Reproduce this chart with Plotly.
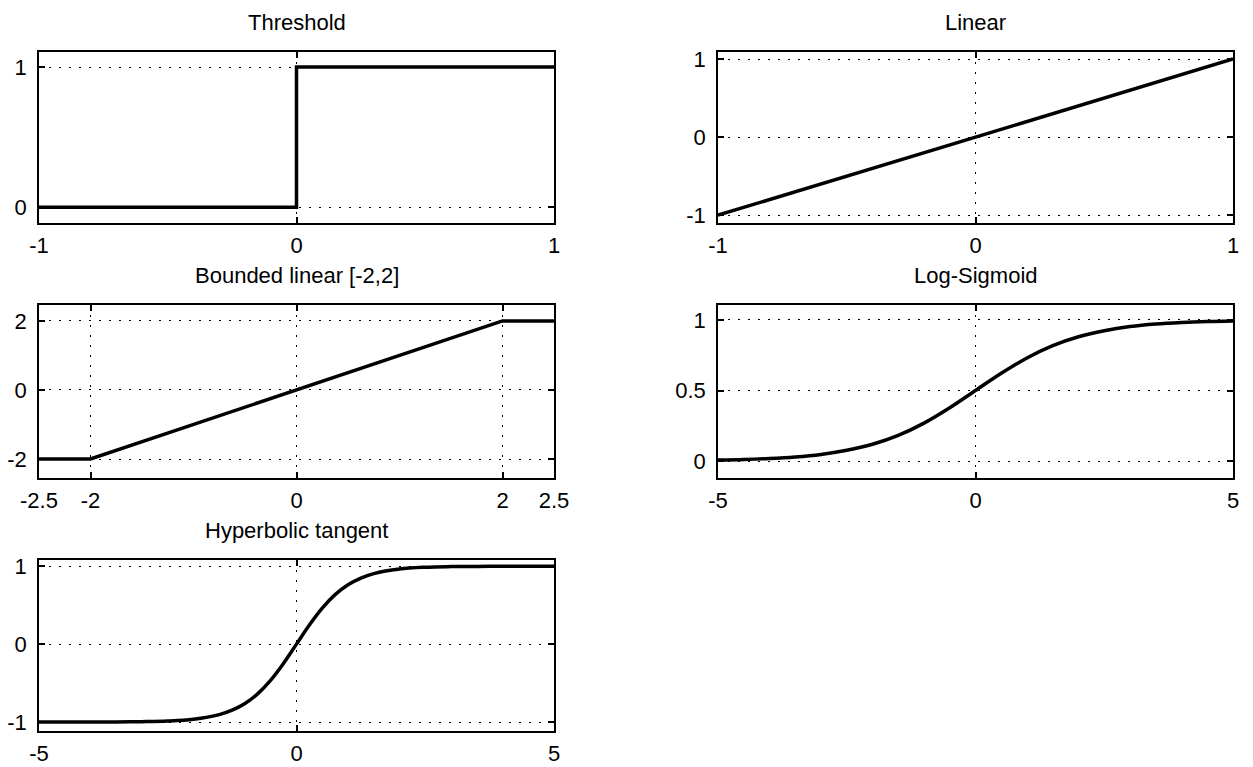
import plotly.graph_objects as go

# ---- data ----
thr_x = [-1, 0, 0, 1]
thr_y = [0, 0, 1, 1]

lin_x = [-1, 1]
lin_y = [-1, 1]

bnd_x = [-2.5, -2, 2, 2.5]
bnd_y = [-2, -2, 2, 2]

sig_x = [-5, -4.5, -4, -3.5, -3, -2.5, -2, -1.5, -1, -0.5, 0, 0.5, 1, 1.5, 2, 2.5, 3, 3.5, 4, 4.5, 5]
sig_y = [0.007, 0.011, 0.018, 0.029, 0.047, 0.076, 0.119, 0.182, 0.269, 0.378, 0.5,
         0.622, 0.731, 0.818, 0.881, 0.924, 0.953, 0.971, 0.982, 0.989, 0.993]

tanh_x = [-5, -4.5, -4, -3.5, -3, -2.5, -2, -1.5, -1.25, -1, -0.75, -0.5, -0.25, 0,
          0.25, 0.5, 0.75, 1, 1.25, 1.5, 2, 2.5, 3, 3.5, 4, 4.5, 5]
tanh_y = [-0.9999, -0.9998, -0.9993, -0.998, -0.995, -0.987, -0.964, -0.905, -0.848, -0.762,
          -0.635, -0.462, -0.245, 0, 0.245, 0.462, 0.635, 0.762, 0.848, 0.905, 0.964, 0.987,
          0.995, 0.998, 0.9993, 0.9998, 0.9999]

titles = ["Threshold", "Linear", "Bounded linear [-2,2]", "Log-Sigmoid", "Hyperbolic tangent"]

thr_xt = [-1, 0, 1];  thr_xl = ["-1", "0", "1"]
thr_yt = [0, 1];      thr_yl = ["0", "1"]
lin_xt = [-1, 0, 1];  lin_xl = ["-1", "0", "1"]
lin_yt = [-1, 0, 1];  lin_yl = ["-1", "0", "1"]
bnd_xt = [-2.5, -2, 0, 2, 2.5]; bnd_xl = ["-2.5", "-2", "0", "2", "2.5"]
bnd_yt = [-2, 0, 2];  bnd_yl = ["-2", "0", "2"]
sig_xt = [-5, 0, 5];  sig_xl = ["-5", "0", "5"]
sig_yt = [0, 0.5, 1]; sig_yl = ["0", "0.5", "1"]
tnh_xt = [-5, 0, 5];  tnh_xl = ["-5", "0", "5"]
tnh_yt = [-1, 0, 1];  tnh_yl = ["-1", "0", "1"]

W, H = 1253, 767
FONT = "Liberation Sans, Arial, sans-serif"

# panel pixel boxes in page coords: (left, right, top, bottom)
boxes = [(39, 554, 52, 223), (718, 1233, 52, 223),
         (39, 554, 305, 478), (718, 1233, 305, 478),
         (39, 554, 560, 731)]

panels = [
    (thr_x, thr_y, [-1, 1], [-0.112, 1.107], thr_xt, thr_xl, thr_yt, thr_yl),
    (lin_x, lin_y, [-1, 1], [-1.1, 1.09], lin_xt, lin_xl, lin_yt, lin_yl),
    (bnd_x, bnd_y, [-2.5, 2.5], [-2.55, 2.46], bnd_xt, bnd_xl, bnd_yt, bnd_yl),
    (sig_x, sig_y, [-5, 5], [-0.12, 1.106], sig_xt, sig_xl, sig_yt, sig_yl),
    (tanh_x, tanh_y, [-5, 5], [-1.115, 1.08], tnh_xt, tnh_xl, tnh_yt, tnh_yl),
]

fig = go.Figure()
annotations = []
for i, (px, py, xr, yr, xt, xl, yt, yl) in enumerate(panels):
    n = i + 1
    sfx = "" if n == 1 else str(n)
    l, r, t, b = boxes[i]
    xd = [l / W, r / W]
    yd = [1 - b / H, 1 - t / H]
    shape = "spline" if i >= 3 else "linear"
    fig.add_trace(go.Scatter(x=px, y=py, mode="lines",
                             line=dict(color="black", width=3.5, shape=shape),
                             xaxis="x" + sfx, yaxis="y" + sfx, showlegend=False,
                             hoverinfo="skip"))
    common = dict(showline=True, linecolor="black", linewidth=1.5, mirror="ticks",
                  ticks="inside", ticklen=6, tickwidth=1.5, tickcolor="black",
                  showgrid=True, gridcolor="black", gridwidth=1.2, griddash="1.5px,8.5px",
                  zeroline=False, tickfont=dict(family=FONT, size=22, color="black"),
                  fixedrange=True, automargin=False)
    fig.update_layout(**{
        "xaxis" + sfx: dict(domain=xd, range=xr, tickmode="array", tickvals=xt, ticktext=xl,
                            anchor="y" + sfx, ticklabelstandoff=2, **common),
        "yaxis" + sfx: dict(domain=yd, range=yr, tickmode="array", tickvals=yt, ticktext=yl,
                            anchor="x" + sfx, ticklabelstandoff=6, **common),
    })
    annotations.append(dict(text=titles[i], x=(xd[0] + xd[1]) / 2, y=yd[1], xref="paper",
                            yref="paper", xanchor="center", yanchor="middle", yshift=30,
                            showarrow=False, font=dict(family=FONT, size=22, color="black")))

fig.update_layout(width=W, height=H, margin=dict(l=0, r=0, t=0, b=0, autoexpand=False),
                  paper_bgcolor="white", plot_bgcolor="white",
                  annotations=annotations, showlegend=False)

fig.write_html("out.html", config={"displayModeBar": False},
               post_script="document.body.style.margin='0px';document.body.style.overflow='hidden';")
